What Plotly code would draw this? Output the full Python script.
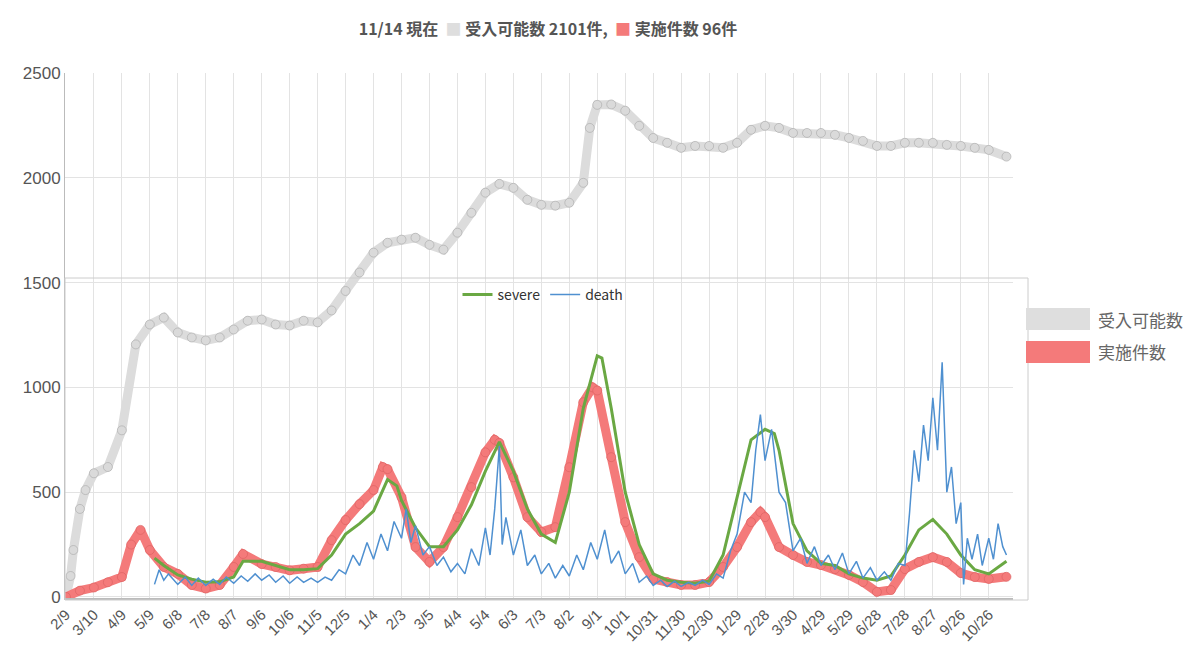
import plotly.graph_objects as go
import pandas as pd

start = pd.Timestamp("2020-02-09")

cap_days = [0,5,8,15,21,30,45,60,75,90,105,120,135,150,165,180,195,210,225,240,255,270,285,300,315,330,345,360,375,390,405,420,435,450,465,480,495,510,525,540,555,562,570,585,600,615,630,645,660,675,690,705,720,735,750,765,780,795,810,825,840,855,870,885,900,915,930,945,960,975,990,1009]
cap_vals = [0,100,224,420,510,590,620,795,1205,1300,1333,1262,1238,1224,1238,1276,1318,1324,1300,1295,1318,1310,1367,1460,1548,1643,1690,1705,1714,1680,1657,1738,1833,1929,1971,1952,1895,1871,1867,1881,1976,2238,2348,2350,2320,2248,2190,2167,2143,2152,2152,2143,2167,2229,2248,2238,2214,2214,2214,2205,2190,2176,2152,2152,2167,2167,2167,2157,2152,2143,2133,2101]

imp_days = [0,15,30,45,60,70,80,90,105,120,135,150,165,180,190,210,225,240,255,270,285,300,315,330,340,345,360,375,390,405,420,435,450,460,465,480,495,510,525,540,555,565,570,585,600,615,630,645,660,675,690,705,720,735,745,750,765,780,795,810,825,840,855,870,885,900,915,930,945,960,975,990,1009]
imp_vals = [0,30,45,70,95,250,320,224,143,110,57,40,57,143,205,157,143,127,135,143,271,367,443,510,620,610,476,238,167,238,381,524,690,750,735,571,381,310,333,619,929,1000,985,667,357,190,86,71,57,57,71,143,238,357,405,381,238,200,167,152,133,105,71,24,33,133,167,190,167,114,95,86,96]

sev_days = [95,105,120,135,150,165,180,190,210,225,240,255,270,285,300,315,330,345,355,360,375,390,405,420,435,450,465,480,495,510,525,540,555,570,575,585,600,615,630,645,660,675,690,705,720,735,750,760,765,780,795,810,825,840,855,870,885,900,915,930,945,960,975,990,1009]
sev_vals = [185,150,105,85,70,72,95,170,170,150,130,130,135,200,300,350,410,560,530,460,330,240,240,320,440,600,740,600,420,300,260,500,900,1150,1140,900,500,250,110,80,70,65,75,200,480,750,800,780,700,350,220,160,150,110,90,80,100,200,320,370,300,200,130,110,170]

dth_days = [95,100,105,110,120,128,135,142,150,158,165,172,180,188,195,203,210,218,225,233,240,248,255,263,270,278,285,293,300,308,315,323,330,338,345,352,360,365,370,375,383,390,398,405,413,420,428,435,443,450,455,460,465,468,472,480,488,495,503,510,518,525,533,540,548,555,563,570,578,585,593,600,608,615,623,630,638,645,653,660,668,675,683,690,698,705,713,720,728,735,740,745,750,757,765,772,780,788,795,803,810,818,825,833,840,848,855,863,870,878,885,893,900,905,910,915,920,925,930,935,940,945,950,955,960,963,967,972,978,983,990,995,1000,1005,1009]
dth_vals = [60,130,80,110,60,95,55,90,55,85,60,95,65,100,75,110,80,105,70,100,65,95,70,90,70,95,80,130,110,200,150,260,180,300,220,360,280,420,260,340,200,240,150,190,120,160,110,230,150,330,200,420,720,250,380,200,320,150,200,110,160,90,150,100,200,130,260,180,320,160,220,110,160,70,100,55,80,50,75,50,70,55,80,60,110,90,220,300,500,450,700,870,650,800,500,450,220,280,160,240,150,200,130,210,110,170,90,140,80,120,80,160,150,400,700,550,820,650,950,700,1120,500,620,350,450,60,280,180,300,150,280,180,350,240,200]

tick_days = list(range(0, 991, 30))
tick_vals = [start + pd.Timedelta(days=d) for d in tick_days]
tick_text = [f"{t.month}/{t.day}" for t in tick_vals]

def dates(days):
    return [start + pd.Timedelta(days=d) for d in days]

fig = go.Figure()
fig.add_trace(go.Scatter(x=dates(cap_days), y=cap_vals, mode="lines+markers",
    line=dict(color="#dcdcdc", width=9), marker=dict(size=9, color="#dadada", line=dict(color="#a8a8a8", width=0.6)),
    showlegend=False))
fig.add_trace(go.Scatter(x=dates(imp_days), y=imp_vals, mode="lines+markers",
    line=dict(color="#f47a7a", width=9), marker=dict(size=9, color="#f47a7a", line=dict(color="#d86060", width=0.6)),
    showlegend=False))
fig.add_trace(go.Scatter(x=dates(sev_days), y=sev_vals, mode="lines", name="severe",
    line=dict(color="#6aa843", width=3), legend="legend2"))
fig.add_trace(go.Scatter(x=dates(dth_days), y=dth_vals, mode="lines", name="death",
    line=dict(color="#4f90d0", width=1.5), legend="legend2"))

x0p = lambda px: (px - 57) / 948
y0p = lambda py: (590 - py) / 525
shapes = [
    dict(type="rect", xref="paper", yref="paper", x0=0, x1=x0p(1020), y0=y0p(592), y1=y0p(270),
         line=dict(color="#cccccc", width=1), fillcolor="rgba(0,0,0,0)"),
    dict(type="rect", xref="paper", yref="paper", x0=x0p(1018), x1=x0p(1082), y0=y0p(322), y1=y0p(300),
         line=dict(width=0), fillcolor="#dedede"),
    dict(type="rect", xref="paper", yref="paper", x0=x0p(1018), x1=x0p(1082), y0=y0p(355), y1=y0p(333),
         line=dict(width=0), fillcolor="#f47a7a"),
]
annotations = [
    dict(xref="paper", yref="paper", x=x0p(1088), y=y0p(311), text="受入可能数", showarrow=False,
         xanchor="left", font=dict(size=17, color="#666")),
    dict(xref="paper", yref="paper", x=x0p(1088), y=y0p(343), text="実施件数", showarrow=False,
         xanchor="left", font=dict(size=17, color="#666")),
]

fig.update_layout(
    width=1200, height=645,
    paper_bgcolor="white", plot_bgcolor="white",
    margin=dict(l=57, r=195, t=65, b=55, autoexpand=False),
    font=dict(family="Noto Sans CJK JP, Noto Sans, sans-serif", color="#555"),
    title=dict(text="<b>11/14 現在  <span style='color:#dedede'>■</span> 受入可能数 2101件,  <span style='color:#f47a7a'>■</span> 実施件数 96件</b>",
               x=0.45, xanchor="center", y=0.975, font=dict(size=16, color="#555")),
    xaxis=dict(type="date", range=[start - pd.Timedelta(days=1), start + pd.Timedelta(days=1016)],
               tickmode="array", tickvals=tick_vals, ticktext=tick_text, tickangle=-45,
               showgrid=True, gridcolor="#e3e3e3", showline=True, linecolor="#bbbbbb", linewidth=2,
               tickfont=dict(size=15, color="#555", family="Liberation Sans, Arial"), ticks="", automargin=False),
    yaxis=dict(range=[-5, 2500], tickvals=[0,500,1000,1500,2000,2500], showgrid=True, gridcolor="#e3e3e3",
               showline=True, linecolor="#bbbbbb", tickfont=dict(size=17, color="#555", family="Liberation Sans, Arial"),
               zeroline=False, automargin=False),
    legend2=dict(orientation="h", x=x0p(535), y=y0p(287), xanchor="center", yanchor="middle",
                 bgcolor="rgba(255,255,255,0)", font=dict(size=14, color="#333")),
    shapes=shapes, annotations=annotations,
)
fig.write_html("out.html")
